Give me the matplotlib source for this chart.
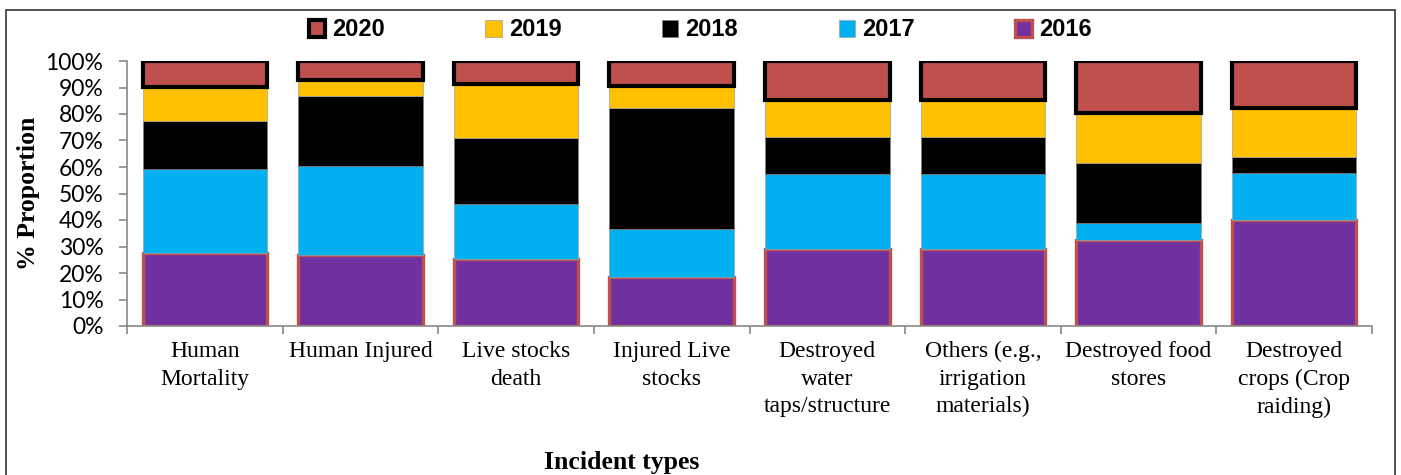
import numpy as np
import matplotlib.pyplot as plt
from matplotlib.patches import Rectangle

categories = ['Human\nMortality', 'Human Injured', 'Live stocks\ndeath', 'Injured Live\nstocks',
              'Destroyed\nwater\ntaps/structure', 'Others (e.g.,\nirrigation\nmaterials)',
              'Destroyed food\nstores', 'Destroyed\ncrops (Crop\nraiding)']

# segment shares (%) per year
y2016 = [27.5, 26.8, 25.3, 18.5, 29.0, 29.0, 32.5, 40.0]
y2017 = [31.7, 33.6, 20.7, 18.1, 28.2, 28.2, 6.2, 17.6]
y2018 = [18.2, 26.4, 25.0, 45.7, 14.2, 14.2, 22.7, 6.3]
y2019 = [12.8, 6.0, 20.3, 8.3, 13.9, 13.9, 18.9, 18.2]
y2020 = [9.8, 7.2, 8.7, 9.4, 14.7, 14.7, 19.7, 17.9]

years = ['2016', '2017', '2018', '2019', '2020']
series = [y2016, y2017, y2018, y2019, y2020]
fills = ['#7030A0', '#00B0F0', '#000000', '#FFC000', '#C0504D']
edges = ['#C0504D', '#A0A0A0', '#808080', '#A0A0A0', '#000000']
lws = [2.4, 0.5, 0.5, 0.5, 3.0]

fig = plt.figure(figsize=(14.01, 4.75), dpi=100)
ax = fig.add_axes([127/1401, 1-326/475, (1372-127)/1401, (326-61)/475])

x = np.arange(len(categories))
bottom = np.zeros(len(categories))
bars = {}
for yr, vals, fc, ec, lw in zip(years, series, fills, edges, lws):
    v = np.array(vals) / 100
    bars[yr] = ax.bar(x, v, 0.8, bottom=bottom, color=fc, edgecolor=ec, linewidth=lw, label=yr)
    bottom = bottom + v

ax.set_xlim(-0.5, 7.5)
ax.set_ylim(0, 1)
ax.set_yticks(np.arange(0, 1.01, 0.1))
ax.set_yticklabels([f'{int(round(t*100))}%' for t in np.arange(0, 1.01, 0.1)],
                   fontsize=16.5, family='Lato')
ax.set_xticks(x)
ax.set_xticklabels(categories, fontsize=17, family='Liberation Serif', linespacing=1.4)
ax.set_xticks(np.arange(-0.5, 8, 1), minor=True)
ax.tick_params(axis='x', which='major', length=0, pad=11)
ax.tick_params(axis='x', which='minor', length=6, color='#888888', width=1.2)
ax.tick_params(axis='y', length=6, color='#888888', width=1.2, pad=11)
for s in ['top', 'right']:
    ax.spines[s].set_visible(False)
for s in ['left', 'bottom']:
    ax.spines[s].set_color('#888888')
    ax.spines[s].set_linewidth(1.2)

ax.set_ylabel('% Proportion', fontsize=18.5, family='Liberation Serif', fontweight='bold', labelpad=4)
fig.text(622/1401, 1-462/475, 'Incident types', fontsize=18.5, family='Liberation Serif',
         fontweight='bold', ha='center', va='center')

order = ['2020', '2019', '2018', '2017', '2016']
leg = fig.legend([bars[k] for k in order], order, loc='center', ncol=5,
                 bbox_to_anchor=(700/1401, 1-30/475), frameon=False,
                 prop={'family': 'Liberation Sans', 'weight': 'bold', 'size': 17},
                 handlelength=0.7, handleheight=0.7, handletextpad=0.3, columnspacing=4.25)

fig.patches.append(Rectangle((6/1401, -0.1), 1389/1401, 1.1 - 10/475, transform=fig.transFigure,
                             fill=False, edgecolor='#333333', linewidth=1.2))

fig.savefig('out.png', dpi=100)
